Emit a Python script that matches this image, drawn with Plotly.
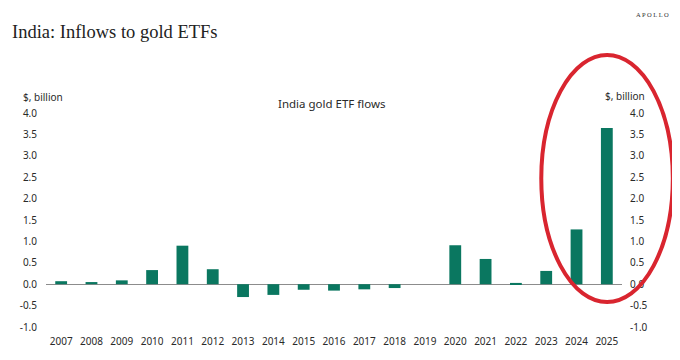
import plotly.graph_objects as go

years = ["2007", "2008", "2009", "2010", "2011", "2012", "2013", "2014", "2015",
         "2016", "2017", "2018", "2019", "2020", "2021", "2022", "2023", "2024", "2025"]
flows = [0.07, 0.05, 0.09, 0.33, 0.90, 0.35, -0.30, -0.25, -0.13,
         -0.15, -0.12, -0.09, 0.0, 0.91, 0.59, 0.03, 0.31, 1.28, 3.65]
y_ticks = [-1.0, -0.5, 0.0, 0.5, 1.0, 1.5, 2.0, 2.5, 3.0, 3.5, 4.0]
y_tick_text = [f"{v:.1f}" for v in y_ticks]

BAR = "#0a7760"
RED = "#d9252f"
SANS = "Noto Sans, Open Sans, sans-serif"
TXT = "#2a2a2a"

# page is rendered with an 8px body margin, so the figure is 672x352
W, H = 672, 352
PL, PR, PT, PB = 36, 614, 105, 319  # plot area in figure pixels

fig = go.Figure()
fig.add_trace(go.Bar(x=years, y=flows, marker_color=BAR, marker_line_width=0,
                     hoverinfo="skip", showlegend=False))
fig.add_trace(go.Scatter(x=years, y=flows, yaxis="y2", mode="lines",
                         line=dict(color="rgba(0,0,0,0)"), hoverinfo="skip",
                         showlegend=False))

axis_common = dict(range=[-1, 4], tickvals=y_ticks, ticktext=y_tick_text,
                   showgrid=False, showline=False,
                   ticks="outside", tickcolor="rgba(0,0,0,0)",
                   tickfont=dict(family=SANS, size=10, color=TXT))

fig.update_layout(
    width=W, height=H,
    margin=dict(l=PL, r=W - PR, t=PT, b=H - PB, pad=0),
    paper_bgcolor="white", plot_bgcolor="white",
    bargap=0.61,
    title=dict(text="India: Inflows to gold ETFs", xref="container", yref="container",
               x=4 / W, y=1 - 24 / H, xanchor="left", yanchor="middle",
               font=dict(family="Liberation Serif, serif", size=18.5, color="#222")),
    xaxis=dict(type="category", showgrid=False, showline=False, ticks="outside",
               ticklen=5, tickcolor="rgba(0,0,0,0)",
               tickfont=dict(family=SANS, size=10, color=TXT),
               range=[-0.5, len(years) - 0.5]),
    yaxis=dict(**axis_common, ticklen=6, zeroline=True, zerolinecolor="#8c8c8c",
               zerolinewidth=1),
    yaxis2=dict(**axis_common, ticklen=5, overlaying="y", side="right",
                zeroline=False),
)

pw, ph = PR - PL, PB - PT


def px(x):  # reference-page x -> paper
    return (x - 8 - PL) / pw


def py(y):  # reference-page y -> paper
    return (PB - (y - 8)) / ph


fig.add_annotation(text="India gold ETF flows", xref="paper", yref="paper",
                   x=px(331), y=py(104), xanchor="center", yanchor="middle",
                   showarrow=False, font=dict(family=SANS, size=11.5, color=TXT))
fig.add_annotation(text="$, billion", xref="paper", yref="paper",
                   x=px(19), y=py(106), xanchor="left",
                   yanchor="bottom", showarrow=False,
                   font=dict(family=SANS, size=10, color=TXT))
fig.add_annotation(text="$, billion", xref="paper", yref="paper",
                   x=px(647), y=py(105), xanchor="right",
                   yanchor="bottom", showarrow=False,
                   font=dict(family=SANS, size=10, color=TXT))
fig.add_annotation(text="A P O L L O", xref="paper", yref="paper",
                   x=px(671), y=py(14), xanchor="right",
                   yanchor="middle", showarrow=False,
                   font=dict(family="Liberation Serif, serif", size=6.5, color="#333"))

fig.add_shape(type="circle", xref="paper", yref="paper",
              x0=px(541), x1=px(673), y0=py(302), y1=py(55),
              line=dict(color=RED, width=4), fillcolor="rgba(0,0,0,0)")

fig.write_html("out.html")
